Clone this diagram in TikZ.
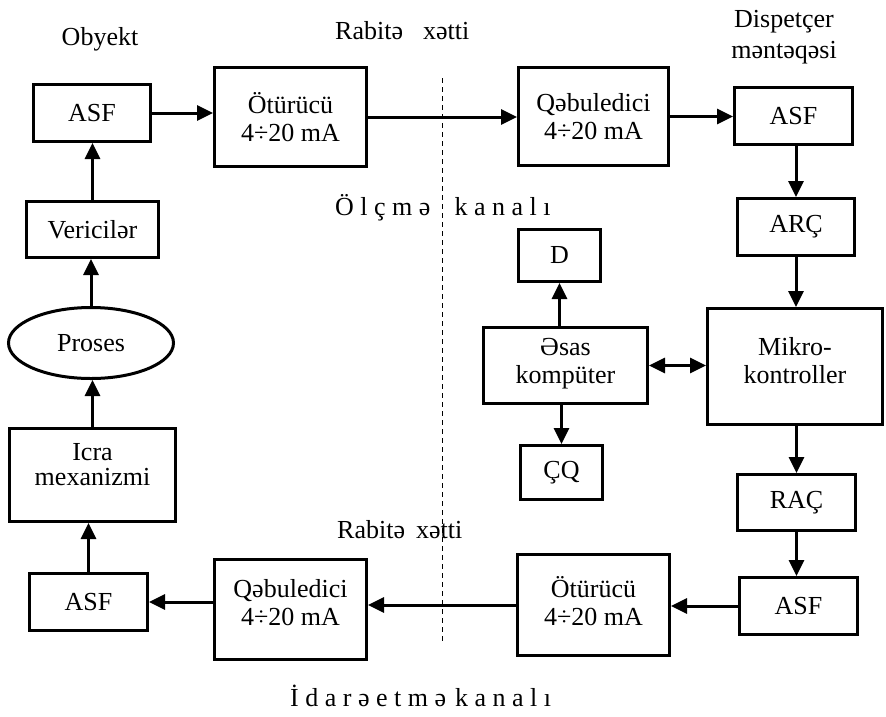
\documentclass[tikz,border=0pt]{standalone}
\usepackage{fontspec}
\setmainfont{Liberation Serif}
\usetikzlibrary{arrows.meta,shapes.geometric}
\newcommand{\lsp}{\hspace{6.5pt}}
\begin{document}
\begin{tikzpicture}[x=1pt,y=-1pt,
  box/.style={draw,line width=3pt,rectangle,inner sep=0pt,align=center,font=\fontsize{26}{28}\selectfont},
  oval/.style={draw,line width=3pt,ellipse,inner sep=0pt,font=\fontsize{26}{28}\selectfont},
  txt/.style={inner sep=0pt,align=center,font=\fontsize{26}{28}\selectfont},
  arr/.style={line width=3pt,-{Triangle[length=16pt,width=15pt]}},
  darr/.style={line width=3pt,{Triangle[length=16pt,width=15pt]}-{Triangle[length=16pt,width=15pt]}},
  dline/.style={line width=0.9pt,dash pattern=on 5pt off 4pt}
]
\useasboundingbox (0,0) rectangle (886,716);

% boxes
\node[box,minimum width=117pt,minimum height=57pt] (asf1) at (92,113) {ASF};
\node[box,minimum width=152pt,minimum height=99pt] (ot1) at (290.5,117) {Ötürücü\\4÷20 mA};
\node[box,minimum width=150pt,minimum height=98pt] (qb1) at (593.5,116.5) {Qəbuledici\\4÷20 mA};
\node[box,minimum width=118pt,minimum height=57pt] (asf2) at (793.5,116) {ASF};
\node[box,minimum width=117pt,minimum height=57pt] (arc) at (796,227) {ARÇ};
\node[box,minimum width=175pt,minimum height=116pt] (mk) at (795,366.5) {};
\node[txt] (mkt) at (795,361) {Mikro-\\kontroller};
\node[box,minimum width=164pt,minimum height=76pt] (esas) at (565.5,365.5) {};
\node[txt] (esast) at (565.5,364) {Əsas\\kompüter};
\node[box,minimum width=82pt,minimum height=52pt] (d) at (559.5,255.5) {D};
\node[box,minimum width=82pt,minimum height=54pt] (cq) at (561.5,472.5) {ÇQ};
\node[box,minimum width=118pt,minimum height=56pt] (rac) at (796.5,502.5) {RAÇ};
\node[box,minimum width=118pt,minimum height=57pt] (asf3) at (798.5,606) {ASF};
\node[box,minimum width=152pt,minimum height=101pt] (ot2) at (593.5,605) {};
\node[txt] (ot2t) at (593.5,601) {Ötürücü\\4÷20 mA};
\node[box,minimum width=152pt,minimum height=100pt] (qb2) at (290.5,609.5) {};
\node[txt] (qb2t) at (290.5,603) {Qəbuledici\\4÷20 mA};
\node[box,minimum width=118pt,minimum height=57pt] (asf4) at (88.5,602) {ASF};
\node[box,minimum width=166pt,minimum height=93pt] (icra) at (92.5,475) {};
\node[txt] (icrat) at (92.5,465) {Icra\\[-3pt]mexanizmi};
\node[oval,minimum width=165pt,minimum height=71pt] (proses) at (91,343) {Proses};
\node[box,minimum width=132pt,minimum height=56pt] (ver) at (92.5,229.5) {Vericilər};

% labels
\node[txt] (obyekt) at (100,39) {Obyekt};
\node[txt,anchor=base west] (rab1) at (335,39) {Rabitə\hspace{20pt}xətti};
\node[txt,font=\fontsize{26}{31}\selectfont] (disp) at (784,37) {Dispetçer\\məntəqəsi};
\node[txt,anchor=base west] (olcme) at (335,215) {Ö\lsp l\lsp ç\lsp m\lsp ə\hspace{24pt}k\lsp a\lsp n\lsp a\lsp l\lsp ı};
\node[txt,anchor=base west] (rab2) at (337,538) {Rabitə\hspace{11pt}xətti};
\node[txt,anchor=base west] (idare) at (290,706) {İ\lsp d\lsp a\lsp r\lsp ə\lsp e\lsp t\lsp m\lsp ə\hspace{9pt}k\lsp a\lsp n\lsp a\lsp l\lsp ı};

% dashed divider
\coordinate (dtop) at (442,78);
\coordinate (dbot) at (442,642);
\draw[dline] (dtop) -- (dbot);

% connectors
\draw[arr] (ver.north) -- (ver.north |- asf1.south);
\draw[arr] (proses.north) -- (proses.north |- ver.south);
\draw[arr] (icra.north) -- (icra.north |- proses.south);
\draw[arr] (asf4.north) -- (asf4.north |- icra.south);
\draw[arr] (asf1.east) -- (asf1.east -| ot1.west);
\draw[arr] (ot1.east) -- (ot1.east -| qb1.west);
\draw[arr] (qb1.east) -- (qb1.east -| asf2.west);
\draw[arr] (arc.north |- asf2.south) -- (arc.north);
\draw[arr] (arc.south) -- (arc.south |- mk.north);
\draw[darr] (esas.east) -- (esas.east -| mk.west);
\draw[arr] (d.south |- esas.north) -- (d.south);
\draw[arr] (cq.north |- esas.south) -- (cq.north);
\draw[arr] (rac.north |- mk.south) -- (rac.north);
\draw[arr] (rac.south) -- (rac.south |- asf3.north);
\draw[arr] (asf3.west) -- (asf3.west -| ot2.east);
\draw[arr] (ot2.west) -- (ot2.west -| qb2.east);
\draw[arr] (asf4.east -| qb2.west) -- (asf4.east);
\end{tikzpicture}
\end{document}
